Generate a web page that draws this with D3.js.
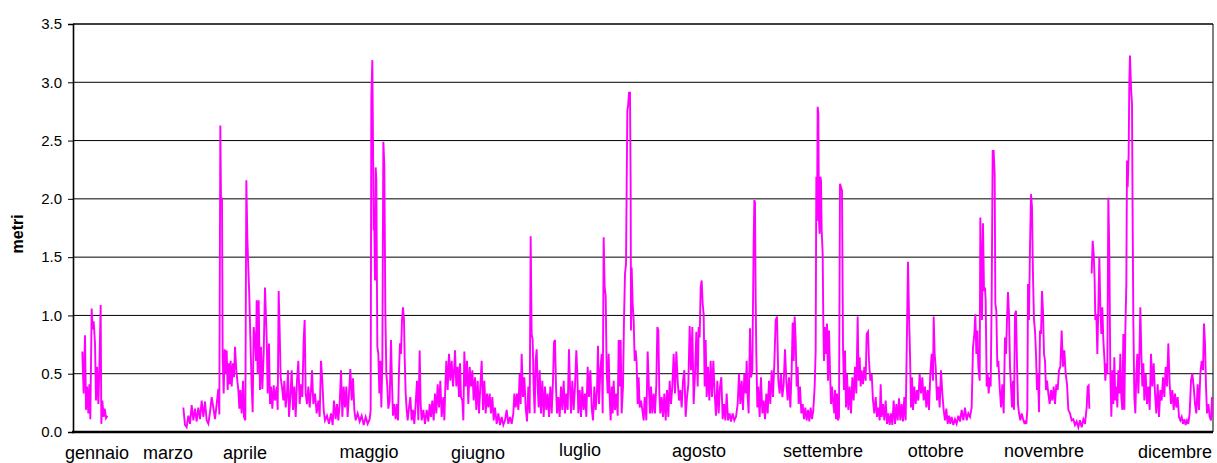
<!DOCTYPE html>
<html>
<head>
<meta charset="utf-8">
<script src="https://cdn.jsdelivr.net/npm/d3@7"></script>
<style>
  html, body { margin: 0; padding: 0; background: #fff; }
  svg { display: block; font-family: "Liberation Sans", Arial, sans-serif; }
</style>
</head>
<body>
<div id="chart"></div>
<script>
// samples are 2-hourly records, x = record number (start + offset)
const mesi = ["gennaio", "marzo", "aprile", "maggio", "giugno", "luglio",
  "agosto", "settembre", "ottobre", "novembre", "dicembre"];
const mesiPos = [72, 285, 516, 888, 1215, 1521, 1878, 2250, 2588, 2913, 3306];
const yTicks = [0, 0.5, 1.0, 1.5, 2.0, 2.5, 3.0, 3.5];

const startGenApr = 6;
const hsGenApr = [[22,0.69],[23,0.59],[26,0.33],[30,0.83],[33,0.19],[36,0.39],[40,0.16],[43,0.41],[46,0.11],[50,1.06],[53,0.88],[56,0.95],[60,0.76],[63,0.27],[66,0.56],[70,0.24],[73,0.54],[77,1.09],[79,0.07],[82,0.27],[86,0.13],[89,0.2],[93,0.12],[97,0.14],[200,null],
  [325,0.21],[330,0.06],[335,0.04],[340,0.14],[345,0.07],[350,0.23],[355,0.1],[360,0.2],[365,0.09],[370,0.21],[375,0.11],[380,0.27],[385,0.13],[390,0.26],[395,0.1],[400,0.07],[405,0.17],[410,0.3],[415,0.21],[420,0.11],[425,0.24],[430,0.37],[433,0.15],[436,2.63],[438,1.99],[441,2.01],[443,0.64],[446,0.33],[449,0.71],[452,0.5],[455,0.7],[458,0.36],[461,0.59],[464,0.41],[467,0.61],[470,0.39],[474,0.59],[477,0.47],[480,0.73],[484,0.53],[487,0.44],[490,0.36],[493,0.2],[496,0.36],[500,0.16],[504,0.44],[507,0.13],[511,0.1],[514,2.16],[517,1.67],[520,1.4],[523,1.16],[526,0.81],[530,0.39],[533,0.17],[536,0.9],[540,0.79],[543,0.61],[545,1.13],[548,0.5],[551,1.13],[555,0.36],[558,0.73],[562,0.37],[566,0.67],[570,1.24]];

const startAprGiu = 576;
const hsAprGiu = [[0,1.24],[5,0.81],[8,0.33],[12,0.76],[15,0.24],[18,0.39],[22,0.2],[26,0.4],[30,0.27],[35,0.39],[38,0.19],[41,1.21],[44,0.87],[47,0.47],[52,0.36],[55,0.27],[58,0.44],[62,0.21],[66,0.33],[69,0.53],[72,0.13],[76,0.3],[80,0.53],[84,0.19],[88,0.39],[92,0.13],[96,0.44],[100,0.61],[104,0.24],[108,0.41],[112,0.3],[116,0.79],[119,0.96],[122,0.33],[126,0.24],[130,0.39],[134,0.21],[138,0.36],[141,0.53],[145,0.24],[150,0.33],[155,0.16],[160,0.27],[164,0.13],[168,0.61],[172,0.44],[176,0.19],[180,0.1],[186,0.14],[192,0.07],[198,0.16],[203,0.06],[207,0.27],[212,0.11],[216,0.24],[220,0.1],[224,0.24],[228,0.53],[232,0.13],[236,0.39],[240,0.21],[244,0.39],[248,0.13],[252,0.33],[256,0.54],[260,0.27],[264,0.46],[268,0.19],[272,0.1],[278,0.16],[284,0.09],[290,0.14],[296,0.06],[302,0.13],[308,0.07],[314,0.11],[317,0.19],[319,2.87],[322,3.19],[324,2.5],[326,1.73],[328,1.76],[330,1.3],[332,2.27],[334,2.16],[337,0.73],[340,0.67],[343,0.33],[346,0.61],[349,0.21],[352,0.59],[355,2.49],[358,2.29],[361,1.04],[364,0.5],[367,0.39],[370,0.2],[374,0.27],[378,0.79],[381,0.41],[384,0.14],[388,0.24],[392,0.11],[396,0.24],[399,0.1],[402,0.53],[405,0.76],[408,0.67],[411,0.96],[414,1.07],[417,0.96],[419,0.64],[422,0.33],[425,0.19],[428,0.1],[432,0.21],[436,0.3],[440,0.1],[444,0.19],[448,0.07],[452,0.24],[456,0.44],[460,0.1],[464,0.7],[467,0.24],[470,0.1],[475,0.19],[480,0.07],[485,0.19],[490,0.09],[494,0.24],[498,0.13],[502,0.27],[506,0.1],[510,0.33],[514,0.16],[518,0.41],[522,0.21],[526,0.44],[530,0.13],[535,0.3],[538,0.1],[541,0.39],[544,0.61],[548,0.36],[552,0.67],[556,0.44],[560,0.61],[564,0.39],[568,0.56]];

const startGiuLug = 1146;
const hsGiuLug = [[0,0.7],[4,0.39],[8,0.56],[12,0.3],[15,0.59],[18,0.3],[22,0.27],[25,0.1],[28,0.69],[32,0.39],[36,0.61],[40,0.24],[44,0.56],[48,0.39],[52,0.53],[56,0.27],[60,0.47],[64,0.19],[68,0.44],[72,0.16],[76,0.39],[80,0.61],[84,0.19],[88,0.44],[92,0.16],[96,0.33],[100,0.21],[104,0.33],[108,0.16],[112,0.3],[116,0.1],[120,0.21],[125,0.07],[130,0.16],[135,0.06],[140,0.13],[145,0.06],[150,0.1],[155,0.19],[160,0.07],[165,0.13],[170,0.07],[175,0.16],[178,0.33],[182,0.21],[186,0.33],[190,0.19],[194,0.5],[197,0.24],[200,0.67],[204,0.3],[208,0.47],[212,0.21],[216,0.09],[220,0.39],[224,0.16],[227,1.68],[230,0.84],[233,0.79],[236,0.39],[239,0.16],[242,0.61],[245,0.71],[248,0.39],[251,0.21],[254,0.53],[258,0.16],[262,0.44],[266,0.13],[270,0.39],[274,0.19],[278,0.33],[282,0.13],[286,0.39],[290,0.16],[294,0.44],[297,0.77],[300,0.79],[303,0.39],[306,0.16],[310,0.3],[314,0.13],[318,0.39],[322,0.19],[326,0.44],[330,0.16],[334,0.33],[338,0.19],[342,0.71],[345,0.39],[348,0.16],[352,0.44],[356,0.19],[360,0.39],[364,0.7],[367,0.5],[370,0.16],[374,0.36],[378,0.13],[382,0.39],[386,0.19],[390,0.33],[394,0.13],[398,0.56],[402,0.3],[406,0.53],[410,0.21],[414,0.1],[418,0.39],[422,0.19],[426,0.36],[429,0.74],[432,0.24],[436,0.53],[440,0.67],[443,0.16],[446,1.67],[449,1.24],[452,1.17],[455,0.53],[458,0.33],[461,0.67],[464,0.3],[467,0.1],[470,0.39],[473,0.16],[476,0.44],[480,0.19],[484,0.33],[488,0.14],[491,0.79],[494,0.39],[497,0.79],[500,0.16],[504,0.39],[507,0.96],[510,1.36],[513,1.44],[515,2.1],[517,2.76],[519,2.79],[522,2.91],[525,2.91],[527,2.1],[528,0.87],[530,1.41],[533,1.1],[536,0.96],[539,0.61],[542,0.7],[545,0.59],[548,0.24],[551,0.47],[554,0.21],[558,0.27],[562,0.19],[566,0.1],[569,0.3]];

const startLugSet = 1716;
const hsLugSet = [[0,0.27],[4,0.1],[8,0.69],[12,0.36],[15,0.16],[18,0.39],[22,0.16],[26,0.33],[30,0.16],[34,0.41],[37,0.9],[40,0.87],[43,0.33],[46,0.16],[50,0.3],[54,0.13],[58,0.33],[62,0.1],[66,0.36],[70,0.13],[74,0.44],[78,0.24],[82,0.39],[86,0.67],[90,0.33],[94,0.69],[98,0.44],[102,0.27],[106,0.36],[110,0.21],[114,0.44],[118,0.53],[122,0.13],[126,0.3],[130,0.41],[134,0.91],[138,0.53],[142,0.9],[146,0.24],[150,0.5],[154,0.86],[158,0.39],[161,0.9],[164,0.81],[167,1.24],[170,1.3],[173,1.1],[176,1.01],[179,0.39],[182,0.79],[185,0.3],[189,0.56],[193,0.27],[197,0.61],[201,0.3],[205,0.61],[209,0.33],[213,0.14],[217,0.44],[221,0.16],[225,0.39],[229,0.47],[233,0.11],[237,0.24],[241,0.1],[245,0.33],[249,0.1],[254,0.16],[258,0.09],[263,0.16],[268,0.1],[273,0.13],[278,0.24],[282,0.5],[286,0.24],[290,0.44],[294,0.19],[298,0.5],[302,0.33],[305,0.61],[308,0.3],[311,0.16],[315,0.89],[318,0.47],[322,0.53],[326,1.64],[328,1.99],[330,1.97],[332,1.13],[334,0.67],[337,0.21],[340,0.39],[344,0.13],[348,0.47],[352,0.16],[356,0.27],[360,0.11],[364,0.33],[368,0.16],[372,0.44],[376,0.24],[380,0.53],[384,0.3],[388,0.59],[392,0.96],[396,0.99],[400,0.44],[404,0.33],[408,0.5],[412,0.3],[416,0.41],[420,0.71],[424,0.44],[428,0.27],[432,0.47],[436,0.21],[440,0.53],[443,0.94],[446,0.61],[449,0.99],[452,0.79],[455,0.39],[458,0.56],[461,0.24],[465,0.39],[469,0.16],[473,0.24],[477,0.11],[481,0.21],[485,0.1],[489,0.19],[493,0.09],[497,0.21],[501,0.11],[505,0.19],[509,0.39],[512,0.7],[514,2.19],[516,1.81],[518,2.79],[520,2.73],[522,1.81],[524,1.7],[526,2.19],[528,2.16],[530,1.73],[533,1.53],[535,0.93],[537,0.61],[540,0.9],[543,0.67],[546,0.93],[549,0.44],[552,0.87],[555,0.53],[558,0.24],[561,0.39],[564,0.27],[568,0.16]];

const startSetNov = 2286;
const hsSetNov = [[0,0.36],[3,0.11],[6,0.33],[9,0.1],[12,0.13],[15,2.13],[18,2.1],[21,2.07],[24,0.73],[27,0.36],[30,0.7],[33,0.21],[36,0.5],[40,0.19],[44,0.39],[48,0.16],[52,0.47],[56,0.27],[60,0.56],[64,0.33],[68,0.99],[71,0.44],[74,0.64],[77,0.39],[80,0.53],[84,0.41],[88,0.56],[92,0.44],[95,0.84],[99,0.86],[102,0.61],[106,0.44],[110,0.5],[114,0.27],[118,0.16],[122,0.3],[126,0.13],[130,0.21],[134,0.1],[137,0.41],[140,0.13],[144,0.24],[148,0.1],[152,0.27],[156,0.07],[160,0.16],[164,0.06],[168,0.16],[172,0.06],[176,0.27],[180,0.07],[184,0.24],[188,0.1],[192,0.29],[196,0.1],[200,0.24],[204,0.09],[208,0.3],[212,0.1],[216,0.87],[219,1.46],[222,1.01],[225,0.67],[228,0.21],[231,0.47],[234,0.19],[238,0.39],[242,0.24],[246,0.36],[250,0.27],[254,0.5],[258,0.33],[262,0.47],[266,0.27],[270,0.39],[274,0.21],[278,0.36],[282,0.19],[286,0.5],[290,0.67],[294,0.44],[296,0.99],[299,0.67],[302,0.56],[306,0.27],[310,0.39],[314,0.21],[318,0.53],[322,0.33],[326,0.19],[330,0.1],[334,0.2],[338,0.07],[342,0.14],[346,0.07],[350,0.13],[355,0.06],[360,0.11],[365,0.07],[370,0.14],[375,0.09],[380,0.19],[385,0.1],[390,0.21],[395,0.1],[400,0.16],[405,0.13],[410,0.21],[414,0.73],[418,0.84],[421,1.01],[424,0.67],[427,0.87],[430,0.56],[434,0.44],[436,1.84],[438,1.53],[441,0.96],[444,1.79],[447,1.21],[450,1.24],[452,1.13],[455,0.39],[458,0.5],[461,0.33],[464,0.47],[467,0.39],[470,1.14],[473,2.41],[476,2.41],[479,2.21],[481,1.1],[484,1.04],[487,0.56],[490,0.61],[494,0.39],[498,0.21],[502,0.41],[506,0.16],[510,0.81],[513,0.67],[516,0.96],[519,1.2],[522,1.01],[525,0.56],[528,0.39],[531,0.21],[534,0.44],[537,0.19],[540,1.01],[543,1.04],[546,0.59],[549,0.24],[552,0.16],[556,0.1],[560,0.16],[565,0.1],[569,0.07]];

const startNovDic = 2856;
const hsNovDic = [[0,0.1],[4,0.07],[7,0.19],[9,1.27],[12,0.96],[15,1.59],[18,2.04],[21,1.93],[24,1.33],[27,0.96],[30,0.87],[33,0.67],[36,0.36],[39,0.5],[42,0.17],[45,0.87],[48,0.84],[51,1.21],[54,1.04],[57,0.67],[60,0.61],[63,0.36],[66,0.44],[70,0.33],[74,0.24],[78,0.36],[82,0.27],[86,0.39],[90,0.24],[94,0.41],[98,0.36],[102,0.53],[106,0.56],[110,0.87],[114,0.56],[118,0.7],[122,0.5],[126,0.41],[130,0.19],[135,0.16],[140,0.1],[145,0.11],[150,0.06],[155,0.09],[160,0.04],[165,0.1],[170,0.04],[175,0.11],[180,0.07],[185,0.21],[188,0.39],[191,0.4],[193,0.2],[196,null],
  [200,1.36],[203,1.64],[206,1.53],[209,1.3],[211,0.96],[214,1.01],[217,0.67],[220,1.07],[223,1.5],[226,1.07],[229,0.84],[232,1.07],[235,0.79],[238,0.64],[241,0.44],[244,0.59],[247,0.5],[250,2.01],[253,1.53],[256,0.5],[259,0.13],[262,0.53],[265,0.24],[268,0.64],[271,0.27],[274,0.39],[277,0.21],[280,0.53],[283,0.33],[286,0.67],[289,0.3],[292,0.19],[295,0.84],[298,0.19],[301,0.87],[304,1.27],[306,2.33],[308,2.1],[311,2.39],[313,3.01],[315,3.23],[318,2.96],[321,2.81],[323,1.81],[325,0.96],[328,0.3],[331,0.16],[334,0.5],[337,0.67],[340,0.33],[343,0.64],[346,1.07],[349,0.67],[352,0.39],[355,0.59],[358,0.27],[362,0.5],[366,0.24],[370,0.39],[374,0.19],[378,0.67],[382,0.39],[386,0.59],[390,0.33],[394,0.16],[398,0.41],[402,0.13],[406,0.36],[410,0.27],[414,0.47],[418,0.3],[422,0.56],[426,0.39],[430,0.76],[434,0.41],[438,0.24],[442,0.36],[446,0.19],[450,0.33],[454,0.21],[458,0.3],[462,0.13],[466,0.1],[470,0.13],[474,0.07],[478,0.11],[482,0.06],[486,0.1],[490,0.07],[494,0.16],[498,0.44],[502,0.5],[506,0.39],[510,0.24],[514,0.16],[518,0.41],[522,0.19],[526,0.5],[530,0.61],[534,0.53],[537,0.93],[540,0.76],[543,0.39],[546,0.16],[550,0.24],[554,0.13],[558,0.1],[561,0.3],[564,0.13],[566,0.16]];

const totalRecords = 3420;

const width = 1217;
const height = 463;
const margin = { top: 24, right: 4, bottom: 31, left: 73 };

const svg = d3.select("#chart")
  .append("svg")
  .attr("width", width)
  .attr("height", height);

svg.append("rect").attr("width", width).attr("height", height).attr("fill", "#fff");

const x = d3.scaleLinear()
  .domain([0, totalRecords])
  .range([margin.left, width - margin.right]);

const y = d3.scaleLinear()
  .domain([0, 3.5])
  .range([height - margin.bottom, margin.top]);

// gridlines
svg.append("g")
  .selectAll("line")
  .data(yTicks.filter((t) => t > 0))
  .enter()
  .append("line")
  .attr("x1", x(0))
  .attr("x2", x(totalRecords))
  .attr("y1", (d) => y(d))
  .attr("y2", (d) => y(d))
  .attr("stroke", "#000")
  .attr("stroke-width", (d) => (d === 3.5 ? 1.6 : 1));

// right border of the plot area
svg.append("line")
  .attr("x1", x(totalRecords))
  .attr("x2", x(totalRecords))
  .attr("y1", y(3.5))
  .attr("y2", y(0))
  .attr("stroke", "#000");

svg.append("defs")
  .append("clipPath")
  .attr("id", "plot-clip")
  .append("rect")
  .attr("x", x(0))
  .attr("y", y(3.5))
  .attr("width", x(totalRecords) - x(0))
  .attr("height", y(0) - y(3.5));

const chunks = [
  [startGenApr, hsGenApr],
  [startAprGiu, hsAprGiu],
  [startGiuLug, hsGiuLug],
  [startLugSet, hsLugSet],
  [startSetNov, hsSetNov],
  [startNovDic, hsNovDic],
];
const series = chunks.flatMap(([start, pts]) =>
  pts.map(([off, v]) => ({ t: start + off, v })));

const line = d3.line()
  .defined((d) => d.v != null)
  .x((d) => x(d.t))
  .y((d) => y(d.v));

svg.append("path")
  .datum(series)
  .attr("clip-path", "url(#plot-clip)")
  .attr("fill", "none")
  .attr("stroke", "#ff00ff")
  .attr("stroke-width", 1.9)
  .attr("stroke-linejoin", "miter")
  .attr("d", line);

// y axis
svg.append("g")
  .attr("transform", `translate(${x(0)},0)`)
  .call(d3.axisLeft(y).tickValues(yTicks).tickFormat(d3.format(".1f")).tickSize(5).tickPadding(6))
  .call((g) => g.select(".domain").attr("stroke", "#000").attr("stroke-width", 1.6))
  .call((g) => g.selectAll(".tick line").attr("stroke", "#000"))
  .call((g) => g.selectAll(".tick text")
    .attr("fill", "#000")
    .attr("font-size", 15)
    .attr("font-family", "'Liberation Sans', Arial, sans-serif"));

// x axis base line
svg.append("line")
  .attr("x1", x(0) - 1)
  .attr("x2", x(totalRecords))
  .attr("y1", y(0))
  .attr("y2", y(0))
  .attr("stroke", "#000")
  .attr("stroke-width", 2.4);

// month labels, slightly staggered as in the original
const labelBaseline = [459, 459, 459, 458, 459, 456, 457, 457, 457, 457, 458];
svg.append("g")
  .selectAll("text")
  .data(mesi)
  .enter()
  .append("text")
  .attr("x", (d, i) => x(mesiPos[i]))
  .attr("y", (d, i) => labelBaseline[i])
  .attr("text-anchor", "middle")
  .attr("font-size", 18)
  .attr("fill", "#000")
  .text((d) => d);

svg.append("text")
  .attr("transform", `translate(23, ${y(1.7)}) rotate(-90)`)
  .attr("text-anchor", "middle")
  .attr("font-size", 16)
  .attr("font-weight", "bold")
  .attr("fill", "#000")
  .text("metri");
</script>
</body>
</html>
